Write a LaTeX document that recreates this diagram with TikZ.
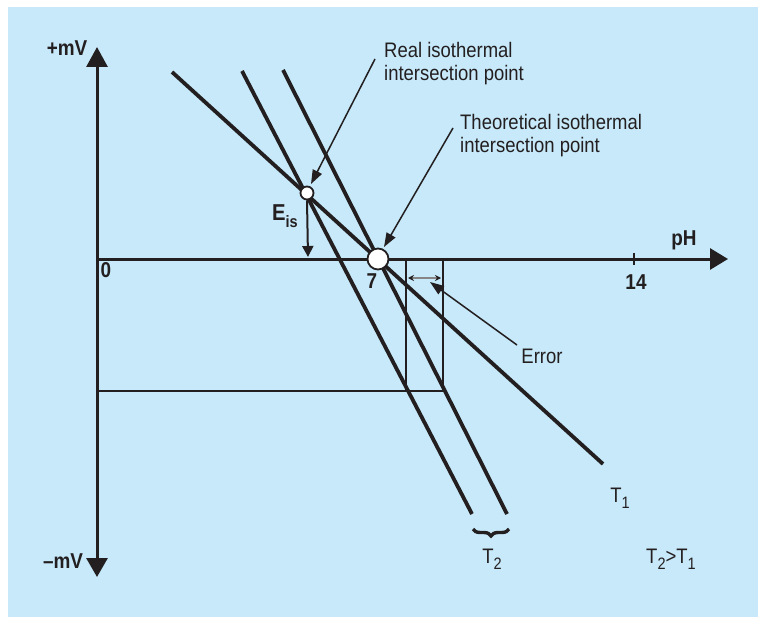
\documentclass[tikz,border=0pt]{standalone}
\usepackage{fontspec}
\setmainfont{Liberation Sans}[FakeStretch=0.88]
\usetikzlibrary{arrows.meta,decorations.pathreplacing}
\definecolor{bg}{HTML}{C7E9F9}
\definecolor{ink}{HTML}{231F20}
\newcommand{\lowsub}[1]{\raisebox{-0.3em}{\fontsize{16.5bp}{16.5bp}\selectfont #1}}
\begin{document}
\begin{tikzpicture}[x=1bp,y=-1bp,
  every node/.style={text=ink, inner sep=0pt},
  txt/.style={font=\fontsize{21bp}{23bp}\selectfont},
  btxt/.style={font=\fontsize{21.5bp}{23bp}\selectfont\bfseries},
  axisline/.style={draw=ink, line width=3bp},
  isoline/.style={draw=ink, line width=3.8bp},
  boxline/.style={draw=ink, line width=2.6bp},
  pointer/.style={draw=ink, line width=1.5bp, -{Triangle[length=14bp,width=10bp]}},
  ipoint/.style={circle, draw=ink, fill=white, line width=1.8bp, inner sep=0pt},
  errarrow/.style={draw=ink!55, line width=1.2bp, {Stealth[length=6bp,width=6bp,color=ink]}-{Stealth[length=6bp,width=6bp,color=ink]}}
]
\useasboundingbox (0,0) rectangle (758,617);
\fill[white] (0,0) rectangle (758,617);
\fill[bg] (8,7) rectangle (758,617);

% axes
\coordinate (O) at (97,259);
\coordinate (ytop) at (97,47);
\coordinate (ybot) at (97,577);
\coordinate (xend) at (728,259);
\draw[axisline, {Triangle[length=19bp,width=21bp]}-{Triangle[length=20bp,width=21bp]}] (ybot) -- (ytop);
\draw[axisline, -{Triangle[length=18bp,width=21bp]}] (O) -- (xend);
\coordinate (t14a) at (634,253);
\coordinate (t14b) at (634,265);
\draw[axisline, line width=2bp] (t14a) -- (t14b);

% error box
\coordinate (bl) at (97,391);
\coordinate (br) at (443,391);
\coordinate (bm) at (406,391);
\coordinate (tm) at (406,259);
\coordinate (tr) at (443,259);
\draw[boxline] (bl) -- (br) -- (tr);
\draw[boxline] (tm) -- (bm);

% isotherms
\coordinate (T1s) at (172,72);
\coordinate (T1e) at (603,464);
\coordinate (T2as) at (242,71);
\coordinate (T2ae) at (472,514);
\coordinate (T2bs) at (283,70);
\coordinate (T2be) at (507,514);
\draw[isoline] (T1s) -- (T1e);
\draw[isoline] (T2as) -- (T2ae);
\draw[isoline] (T2bs) -- (T2be);

% intersection points
\node[ipoint, minimum size=13bp] (real) at (307,193) {};
\node[ipoint, minimum size=21bp] (theo) at (378,259) {};

% E_is arrow
\coordinate (eisend) at (308,257);
\draw[draw=ink, line width=2bp, -{Triangle[length=11bp,width=11bp]}] (real.south) -- (eisend);
\node[font=\fontsize{23bp}{23bp}\selectfont\bfseries] (eis) at (285,216) {E\lowsub{is}};

% annotations
\node[txt, align=left, anchor=west] (realtxt) at (384,64) {Real isothermal\\intersection point};
\coordinate (realfrom) at (375,59);
\coordinate (realto) at (311,184);
\draw[pointer] (realfrom) -- (realto);

\node[txt, align=left, anchor=west] (theotxt) at (460,136) {Theoretical isothermal\\intersection point};
\coordinate (theofrom) at (453,128);
\coordinate (theoto) at (384,247);
\draw[pointer] (theofrom) -- (theoto);

% error
\coordinate (ea) at (408,278);
\coordinate (eb) at (441,278);
\draw[errarrow] (ea) -- (eb);
\node[txt] (errtxt) at (542,356) {Error};
\coordinate (errfrom) at (517,345);
\coordinate (errto) at (430,282);
\draw[pointer] (errfrom) -- (errto);

% axis labels
\node[btxt] (pmv) at (67,48) {+mV};
\node[btxt] (mmv) at (63,561) {–mV};
\node[btxt] (zero) at (106,270) {0};
\node[btxt] (seven) at (372,281) {7};
\node[btxt] (fourteen) at (636,282) {14};
\node[btxt] (ph) at (684,240) {pH};

% temperature labels
\node[txt] (t1) at (620,498) {T\lowsub{1}};
\coordinate (bra) at (509,529);
\coordinate (brb) at (473,529);
\draw[draw=ink, line width=3.4bp, decorate, decoration={brace, amplitude=7bp}] (bra) -- (brb);
\node[txt] (t2) at (492,559) {T\lowsub{2}};
\node[txt] (t2t1) at (671,559) {T\lowsub{2}>T\lowsub{1}};
\end{tikzpicture}
\end{document}
